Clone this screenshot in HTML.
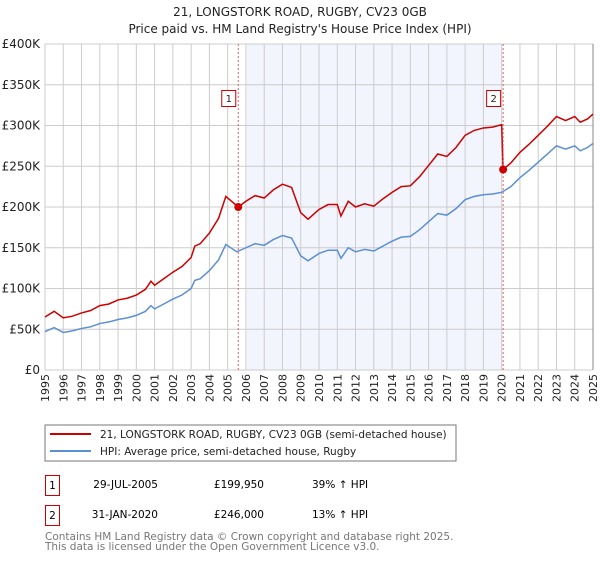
<!DOCTYPE html>
<html><head><meta charset="utf-8"><style>
body{margin:0;background:#fff;font-family:"DejaVu Sans","Liberation Sans",sans-serif;}
svg text{font-family:"DejaVu Sans","Liberation Sans",sans-serif;}
</style></head><body>
<svg width="600" height="560" xmlns="http://www.w3.org/2000/svg" id="chart">
<text x="300" y="16" text-anchor="middle" font-size="12" fill="#222">21, LONGSTORK ROAD, RUGBY, CV23 0GB</text>
<text x="300" y="33" text-anchor="middle" font-size="12" fill="#222">Price paid vs. HM Land Registry's House Price Index (HPI)</text>
<rect x="247" y="44" width="255" height="326" fill="#eef2fc" opacity="0.75"/>
<g id="grid"></g>
<g id="axes"></g>
<g id="series"></g>
<g id="markers"></g>
<rect x="45" y="425" width="411" height="36" fill="#fff" stroke="#777"/>
<line x1="50" y1="434" x2="91" y2="434" stroke="#cc0000" stroke-width="2"/>
<text x="100" y="438" font-size="10.5" fill="#222">21, LONGSTORK ROAD, RUGBY, CV23 0GB (semi-detached house)</text>
<line x1="50" y1="451" x2="91" y2="451" stroke="#5b8fd4" stroke-width="2"/>
<text x="100" y="455" font-size="10.5" fill="#222">HPI: Average price, semi-detached house, Rugby</text>
<rect x="45.5" y="475.5" width="14" height="20" fill="#fff" stroke="#cc0000"/>
<text x="52.5" y="489" text-anchor="middle" font-size="10.5">1</text>
<text x="158" y="488" text-anchor="end" font-size="10.5">29-JUL-2005</text>
<text x="264" y="488" text-anchor="end" font-size="10.5">£199,950</text>
<text x="312" y="488" font-size="10.5">39% ↑ HPI</text>
<rect x="45.5" y="505.5" width="14" height="20" fill="#fff" stroke="#cc0000"/>
<text x="52.5" y="519" text-anchor="middle" font-size="10.5">2</text>
<text x="158" y="518" text-anchor="end" font-size="10.5">31-JAN-2020</text>
<text x="264" y="518" text-anchor="end" font-size="10.5">£246,000</text>
<text x="312" y="518" font-size="10.5">13% ↑ HPI</text>
<text x="45" y="540" font-size="10.5" fill="#777">Contains HM Land Registry data © Crown copyright and database right 2025.</text>
<text x="45" y="550" font-size="10.5" fill="#777">This data is licensed under the Open Government Licence v3.0.</text>
</svg>
<script>
const yTicks=[0,50,100,150,200,250,300,350,400];
const yTickLabels=["£0","£50K","£100K","£150K","£200K","£250K","£300K","£350K","£400K"];
const xYears=[1995,1996,1997,1998,1999,2000,2001,2002,2003,2004,2005,2006,2007,2008,2009,2010,2011,2012,2013,2014,2015,2016,2017,2018,2019,2020,2021,2022,2023,2024,2025];
const hpiDates=[1995,1995.5,1996,1996.5,1997,1997.5,1998,1998.5,1999,1999.5,2000,2000.5,2000.8,2001,2001.5,2002,2002.5,2003,2003.2,2003.5,2004,2004.5,2004.9,2005.5,2006,2006.5,2007,2007.5,2008,2008.5,2009,2009.4,2010,2010.5,2011,2011.2,2011.6,2012,2012.5,2013,2013.5,2014,2014.5,2015,2015.5,2016,2016.5,2017,2017.5,2018,2018.5,2019,2019.5,2020,2020.5,2021,2021.5,2022,2022.5,2023,2023.5,2024,2024.3,2024.7,2025];
const hpiValues=[47,52,46,48,51,53,57,59,62,64,67,72,79,75,81,87,92,100,110,112,122,135,154,145,150,155,153,160,165,162,140,134,143,147,147,137,150,145,148,146,152,158,163,164,172,182,192,190,198,209,213,215,216,218,225,236,245,255,265,275,271,275,269,273,278];
const priceDates=[1995,1995.5,1996,1996.5,1997,1997.5,1998,1998.5,1999,1999.5,2000,2000.5,2000.8,2001,2001.5,2002,2002.5,2003,2003.2,2003.5,2004,2004.5,2004.9,2005.58,2006,2006.5,2007,2007.5,2008,2008.5,2009,2009.4,2010,2010.5,2011,2011.2,2011.6,2012,2012.5,2013,2013.5,2014,2014.5,2015,2015.5,2016,2016.5,2017,2017.5,2018,2018.5,2019,2019.5,2020,2020.08,2020.5,2021,2021.5,2022,2022.5,2023,2023.5,2024,2024.3,2024.7,2025];
const priceValues=[65,72,64,66,70,73,79,81,86,88,92,99,109,104,112,120,127,138,152,155,168,186,213,200,207,214,211,221,228,224,193,185,197,203,203,189,207,200,204,201,210,218,225,226,237,251,265,262,273,288,294,297,298,301,246,254,267,277,288,299,311,306,311,304,308,314];
const saleDates=[2005.58,2020.08];
const saleValues=[199.95,246];
const saleLabels=["1","2"];
const NS="http://www.w3.org/2000/svg";
const X0=45,X1=593,Y0=370,Y1=44;
const xs=t=>X0+(t-1995)/30*(X1-X0);
const ys=v=>Y0-v/400*(Y0-Y1);
function mk(tag,attrs,parent){const e=document.createElementNS(NS,tag);for(const k in attrs)e.setAttribute(k,attrs[k]);document.getElementById(parent).appendChild(e);return e;}
yTicks.forEach((v,i)=>{
 const l=mk('line',{x1:X0,x2:X1,y1:ys(v),y2:ys(v),stroke:'#ccc','stroke-width':1},'grid');
 
 
 const t=mk('text',{x:40,y:ys(v)+4,'text-anchor':'end','font-size':12,fill:'#222'},'axes');
 t.textContent=yTickLabels[i];
 
 
});
xYears.forEach(yr=>{
 const l=mk('line',{x1:xs(yr),x2:xs(yr),y1:Y1,y2:Y0,stroke:'#ccc','stroke-width':1},'grid');
 
 
 const t=mk('text',{x:0,y:0,'text-anchor':'end','font-size':11,fill:'#222',transform:`translate(${xs(yr)+4},374) rotate(-90)`},'axes');
 t.textContent=yr;
 
 
});
saleDates.forEach((d,i)=>{
 const l=mk('line',{x1:xs(d),x2:xs(d),y1:Y1,y2:Y0,stroke:'#e06060','stroke-width':1,'stroke-dasharray':'2,2'},'markers');
 
 
});
const hp=mk('polyline',{points:hpiDates.map((d,i)=>xs(d)+','+ys(hpiValues[i])).join(' '),fill:'none',stroke:'#5b8fd4','stroke-width':1.5},'series');


const pp=mk('polyline',{points:priceDates.map((d,i)=>xs(d)+','+ys(priceValues[i])).join(' '),fill:'none',stroke:'#cc0000','stroke-width':1.5},'series');


saleDates.forEach((d,i)=>{
 const c=mk('circle',{cx:xs(d),cy:ys(saleValues[i]),r:4,fill:'#cc0000'},'markers');
 
 
 const r=mk('rect',{x:xs(d)-16.5,y:90.5,width:14,height:16,fill:'#fff',stroke:'#cc0000'},'markers');
 
 
 const t=mk('text',{x:xs(d)-9.5,y:102,'text-anchor':'middle','font-size':10,fill:'#222'},'markers');
 t.textContent=saleLabels[i];
 
 
});
mk('line',{x1:X1,x2:X1,y1:Y1,y2:Y0,stroke:'#888','stroke-width':1},'axes');
</script>
</body></html>
